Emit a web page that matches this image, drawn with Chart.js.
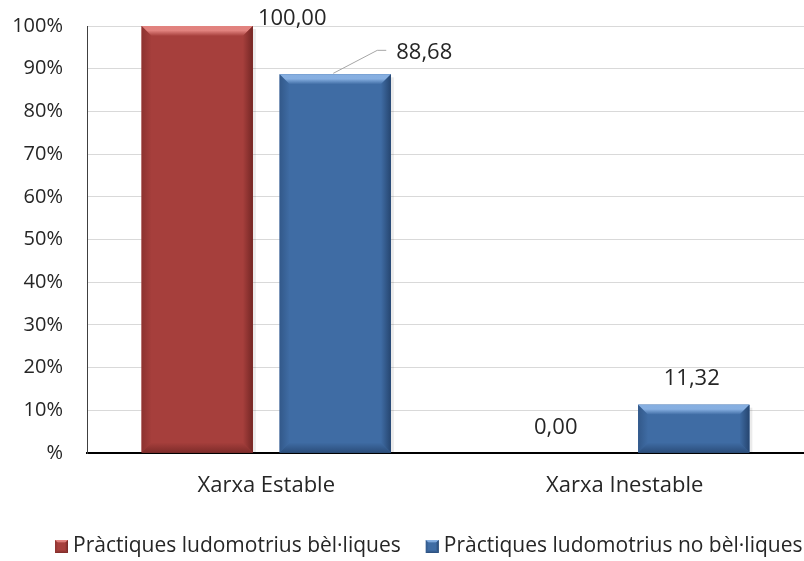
<!DOCTYPE html>
<html>
<head>
<meta charset="utf-8">
<script src="https://cdn.jsdelivr.net/npm/chart.js@4.4.1/dist/chart.umd.min.js"></script>
<style>
  html, body { margin: 0; padding: 0; background: #fff; }
  #wrap { width: 804px; height: 561px; }
</style>
</head>
<body>
<div id="wrap"><canvas id="grafic"></canvas></div>
<script>
// dades del gràfic
const categories = ['Xarxa Estable', 'Xarxa Inestable'];
const belliques = [100.00, 0.00];
const noBelliques = [88.68, 11.32];
const yTicks = [0, 10, 20, 30, 40, 50, 60, 70, 80, 90, 100];

const FONT = '"Open Sans", Lato, sans-serif';

// colors de cada sèrie (cara, clar, fosc)
const colors = [
    { face: '#A63F3C', light: '#EC8E8A', dark: '#6E2422' },
    { face: '#3F6CA4', light: '#93BBEC', dark: '#23416A' }
];

// posició de les etiquetes respecte del cim de la barra
const labelOffsets = [
    [{ dx: 95, dy: -7 }, { dx: 0, dy: -25 }],
    [{ dx: 89, dy: -22, leader: true }, { dx: -2, dy: -26 }]
];

function drawBevel(ctx, l, t, r, b, c, s) {
    ctx.save();
    ctx.fillStyle = c.face;
    ctx.fillRect(l, t, r - l, b - t);
    // dalt
    let g = ctx.createLinearGradient(0, t, 0, t + s);
    g.addColorStop(0, c.light);
    g.addColorStop(0.45, c.light);
    g.addColorStop(1, c.face);
    ctx.fillStyle = g;
    ctx.globalAlpha = 0.85;
    ctx.beginPath();
    ctx.moveTo(l, t); ctx.lineTo(r, t); ctx.lineTo(r - s, t + s); ctx.lineTo(l + s, t + s); ctx.closePath();
    ctx.fill();
    // esquerra
    g = ctx.createLinearGradient(l, 0, l + s, 0);
    g.addColorStop(0, c.dark);
    g.addColorStop(1, c.face);
    ctx.fillStyle = g;
    ctx.globalAlpha = 0.45;
    ctx.beginPath();
    ctx.moveTo(l, t); ctx.lineTo(l + s, t + s); ctx.lineTo(l + s, b - s); ctx.lineTo(l, b); ctx.closePath();
    ctx.fill();
    // dreta
    g = ctx.createLinearGradient(r, 0, r - s, 0);
    g.addColorStop(0, c.dark);
    g.addColorStop(1, c.face);
    ctx.fillStyle = g;
    ctx.globalAlpha = 0.9;
    ctx.beginPath();
    ctx.moveTo(r, t); ctx.lineTo(r - s, t + s); ctx.lineTo(r - s, b - s); ctx.lineTo(r, b); ctx.closePath();
    ctx.fill();
    // baix
    g = ctx.createLinearGradient(0, b, 0, b - s);
    g.addColorStop(0, c.dark);
    g.addColorStop(1, c.face);
    ctx.fillStyle = g;
    ctx.globalAlpha = 0.7;
    ctx.beginPath();
    ctx.moveTo(l, b); ctx.lineTo(r, b); ctx.lineTo(r - s, b - s); ctx.lineTo(l + s, b - s); ctx.closePath();
    ctx.fill();
    ctx.restore();
}

const bevelPlugin = {
    id: 'bevel',
    afterDatasetsDraw(chart) {
        const ctx = chart.ctx;
        chart.data.datasets.forEach((ds, i) => {
            chart.getDatasetMeta(i).data.forEach(bar => {
                const h = bar.base - bar.y;
                if (h <= 0) return;
                const l = bar.x - bar.width / 2, r = bar.x + bar.width / 2;
                // ombra suau a la dreta
                ctx.save();
                ctx.fillStyle = 'rgba(0,0,0,0.08)';
                ctx.fillRect(r, bar.y + 3, 3, h - 3);
                ctx.restore();
                drawBevel(ctx, l, bar.y, r, bar.base, colors[i], Math.min(10, h / 2));
            });
        });
    }
};

const etiquetesPlugin = {
    id: 'etiquetes',
    afterDatasetsDraw(chart) {
        const ctx = chart.ctx;
        ctx.save();
        ctx.font = '22px ' + FONT;
        ctx.fillStyle = '#262626';
        ctx.textAlign = 'center';
        ctx.textBaseline = 'middle';
        chart.data.datasets.forEach((ds, i) => {
            chart.getDatasetMeta(i).data.forEach((bar, j) => {
                const off = labelOffsets[i][j];
                const txt = ds.data[j].toFixed(2).replace('.', ',');
                const x = bar.x + off.dx, y = bar.y + off.dy;
                if (off.leader) {
                    const w = ctx.measureText(txt).width;
                    const ex = x - w / 2 - 10;
                    ctx.strokeStyle = '#A6A6A6';
                    ctx.lineWidth = 1;
                    ctx.beginPath();
                    ctx.moveTo(bar.x - 2, bar.y - 1);
                    ctx.lineTo(ex - 9, y - 2);
                    ctx.lineTo(ex, y - 2);
                    ctx.stroke();
                }
                ctx.fillText(txt, x, y);
            });
        });
        ctx.restore();
    }
};

const llegendaPlugin = {
    id: 'llegenda',
    afterDraw(chart) {
        const ctx = chart.ctx;
        ctx.save();
        ctx.font = '21px ' + FONT;
        ctx.fillStyle = '#262626';
        ctx.textBaseline = 'middle';
        let x = 55;
        const y = 546;
        chart.data.datasets.forEach((ds, i) => {
            drawBevel(ctx, x, y - 6, x + 13, y + 7, colors[i], 3);
            ctx.fillText(ds.label, x + 18, y);
            x += 18 + ctx.measureText(ds.label).width + 25;
        });
        ctx.restore();
    }
};

new Chart(document.getElementById('grafic'), {
    type: 'bar',
    data: {
        labels: categories,
        datasets: [
            { label: 'Pràctiques ludomotrius bèl·liques', data: belliques, backgroundColor: colors[0].face },
            { label: 'Pràctiques ludomotrius no bèl·liques', data: noBelliques, backgroundColor: colors[1].face }
        ]
    },
    options: {
        responsive: true,
        maintainAspectRatio: false,
        animation: false,
        categoryPercentage: 0.77,
        barPercentage: 0.806,
        layout: { padding: { top: 26, right: 0, bottom: 0, left: 0 } },
        plugins: {
            legend: { display: false },
            tooltip: { enabled: false }
        },
        scales: {
            x: {
                grid: { display: false, drawTicks: false },
                border: { color: '#000', width: 2 },
                ticks: { color: '#262626', font: { family: FONT, size: 22 }, padding: 20 },
                afterFit(scale) { scale.height = 108; }
            },
            y: {
                min: 0,
                max: 100,
                afterBuildTicks(scale) { scale.ticks = yTicks.map(v => ({ value: v })); },
                grid: { color: '#D9D9D9', drawTicks: false },
                border: { color: '#404040', width: 1 },
                ticks: {
                    color: '#262626',
                    // lineHeight petit perquè l'etiqueta superior no empenyi l'àrea cap avall
                    font: { family: FONT, size: 20, lineHeight: 0.1 },
                    padding: 24,
                    callback: v => v === 0 ? '%' : v + '%'
                },
                afterFit(scale) { scale.width = 87; }
            }
        }
    },
    plugins: [bevelPlugin, etiquetesPlugin, llegendaPlugin]
});
</script>
</body>
</html>
